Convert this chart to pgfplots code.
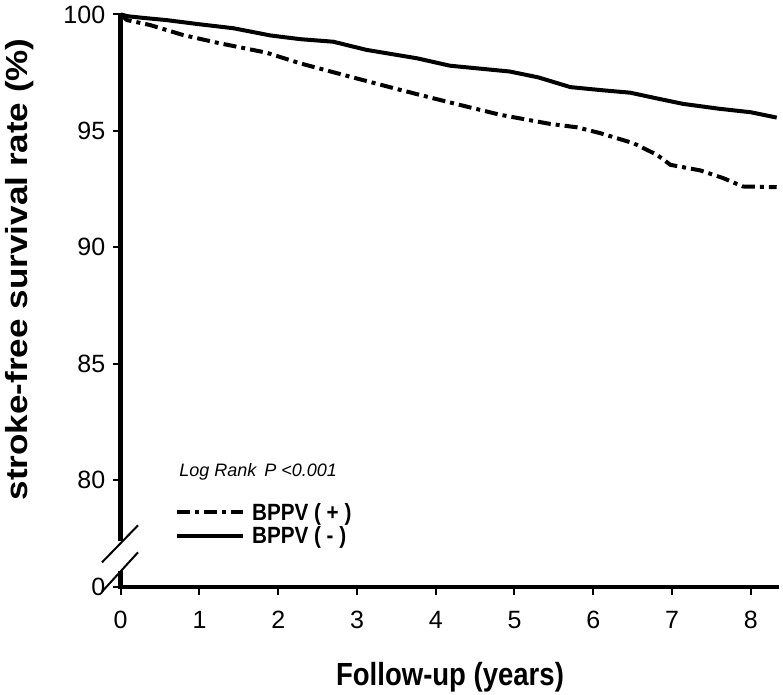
\documentclass[border=0pt]{standalone}
\usepackage{fontspec}
\setmainfont{Liberation Sans}
\usepackage{graphicx}
\usepackage{pgfplots}
\pgfplotsset{compat=1.18}
\pgfplotstableread{
x y
0 100
0.08 99.76
0.37 99.55
0.79 99.12
1.22 98.79
1.85 98.36
2.28 97.90
2.91 97.33
3.55 96.76
4.18 96.22
4.82 95.69
5.45 95.30
5.80 95.15
6.09 94.90
6.51 94.47
6.81 93.97
6.98 93.54
7.36 93.30
7.65 92.97
7.90 92.61
8.33 92.58
}\bppvpos
\pgfplotstableread{
x y
0 100
0.10 99.92
0.30 99.85
0.58 99.76
1.00 99.58
1.43 99.41
1.90 99.10
2.28 98.94
2.70 98.83
3.12 98.48
3.76 98.12
4.18 97.80
4.94 97.55
5.30 97.30
5.71 96.88
6.10 96.75
6.47 96.64
6.80 96.40
7.14 96.16
7.60 95.95
8.00 95.80
8.33 95.57
}\bppvneg
\newcommand{\tl}[1]{{\fontsize{25}{28}\selectfont #1}}
\begin{document}
\begin{tikzpicture}
\begin{axis}[
  at={(0,0)}, anchor=south west,
  scale only axis, width=656pt, height=572.5pt,
  xmin=0, xmax=8.33, ymin=75.4, ymax=100,
  clip=false,
  axis x line*=bottom, axis y line*=left,
  x axis line style={line width=4.5pt, line cap=rect},
  y axis line style={draw=none},
  xtick={0,1,...,8},
  xticklabels={\tl{0},\tl{1},\tl{2},\tl{3},\tl{4},\tl{5},\tl{6},\tl{7},\tl{8}},
  ytick={75.4,80,85,90,95,100},
  yticklabels={\tl{0},\tl{80},\tl{85},\tl{90},\tl{95},\tl{100}},
  tick align=outside,
  major tick length=8pt,
  tick style={line width=2pt, black},
  xticklabel style={yshift=-13pt},
  yticklabel style={xshift=-4pt},
  xlabel={\scalebox{0.86}[1]{\textbf{Follow-up (years)}}},
  ylabel={\scalebox{1.15}[1]{\textbf{stroke-free survival rate (\%)}}},
  xlabel style={font=\fontsize{32}{36}\selectfont, at={(axis description cs:0.502,-0.157)}, anchor=center},
  ylabel style={font=\fontsize{30.5}{34}\selectfont, at={(axis description cs:-0.154,0.555)}, anchor=center, rotate=0},
  legend style={draw=none, fill=none, at={(axis description cs:0.078,0.154)}, anchor=north west,
    font=\fontsize{23.5}{26}\selectfont\bfseries, row sep=1pt,
    nodes={inner xsep=7pt}},
  legend cell align=left,
  legend image code/.code={\draw[#1] (0pt,0pt) -- (66pt,0pt);},
]
\addplot[black, line width=4pt, dash pattern=on 13pt off 5pt on 4pt off 5pt] table[x=x,y=y] {\bppvpos};
\addlegendentry{\scalebox{0.88}[1]{BPPV ( + )}}
\addplot[black, line width=4pt] table[x=x,y=y] {\bppvneg};
\addlegendentry{\scalebox{0.88}[1]{BPPV ( - )}}
\draw[line width=4.5pt] (axis cs:0,100) -- (axis cs:0,77.37);
\draw[line width=4.5pt] (axis cs:0,76.09) -- (axis cs:0,75.4);
\draw[line width=2pt] (axis cs:-0.237,76.46) -- (axis cs:0.22,78.05);
\draw[line width=2pt] (axis cs:-0.237,75.2) -- (axis cs:0.22,76.89);
\node[anchor=west, font=\fontsize{18}{20}\selectfont\itshape] at (axis cs:0.70,80.35) {Log Rank\, P <0.001};
\end{axis}
\pgfresetboundingbox
\path[use as bounding box] (-120.7pt,-107pt) rectangle (662.3pt,587pt);
\end{tikzpicture}
\end{document}
